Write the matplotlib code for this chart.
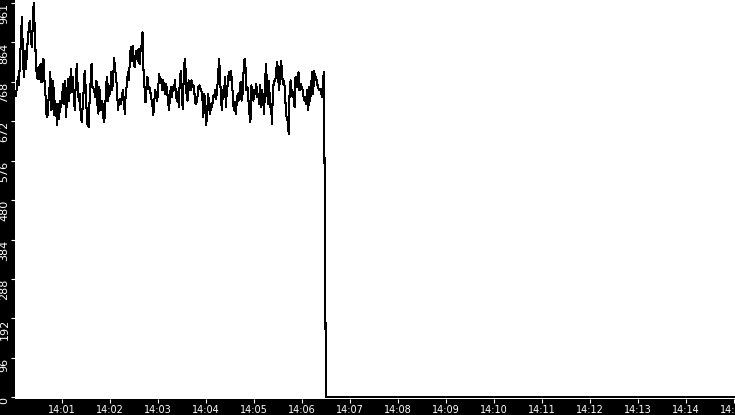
import datetime as dt
import matplotlib
matplotlib.use("Agg")
import matplotlib.pyplot as plt
import matplotlib.dates as mdates

# Recording: one sample every ~1.2 s from 14:00:02, then the signal drops out
day = dt.datetime(2024, 1, 1)
rec_start = day.replace(hour=14, minute=0, second=2, microsecond=250000)
sample_s = 1.226

values = [
    # 14:00 - 14:01:40
    735, 760, 780, 760, 820, 870, 926, 840, 780, 845, 800, 837, 870, 897, 917, 885,
    853, 900, 961, 905, 837, 790, 776, 804, 776, 812, 768, 790, 824, 772, 739, 691,
    683, 720, 748, 792, 699, 715, 772, 687, 723, 695, 663, 715, 679, 723, 707, 731,
    764, 715, 772, 683, 731, 776, 723, 756, 800, 744, 780, 727, 699, 772, 812, 748,
    723, 739, 687, 671, 710, 748, 796, 756, 699, 663, 659, 720, 764, 812, 756,
    # 14:01:40 - 14:03:20
    752, 744, 731, 772, 715, 691, 756, 707, 699, 723, 683, 671, 707, 764, 780, 723,
    756, 739, 792, 748, 772, 828, 796, 784, 748, 699, 723, 727, 715, 731, 748, 723,
    691, 752, 756, 792, 772, 816, 853, 820, 857, 812, 804, 837, 845, 820, 849, 812,
    845, 857, 889, 796, 756, 719, 748, 780, 752, 756, 744, 727, 715, 687, 723, 748,
    731, 723, 756, 788, 768, 776, 748, 772, 756, 739, 764, 748, 723, 699, 735, 756,
    731, 756, 748, 772,
    # 14:03:20 - 14:05:00
    739, 723, 744, 707, 772, 796, 739, 703, 780, 824, 796, 731, 723, 772, 752, 748,
    772, 756, 760, 739, 715, 719, 731, 756, 760, 752, 748, 731, 683, 739, 723, 663,
    699, 739, 703, 691, 715, 707, 735, 731, 748, 727, 748, 780, 824, 788, 723, 699,
    748, 731, 780, 707, 748, 764, 792, 772, 796, 776, 739, 699, 719, 691, 715, 739,
    723, 744, 768, 723, 739, 792, 824, 804, 748, 756, 723, 691, 671, 760, 739, 723,
    748, 739,
    # 14:05:00 - 14:06:26
    764, 731, 739, 715, 760, 707, 748, 723, 691, 772, 812, 748, 715, 772, 707, 715,
    667, 752, 768, 772, 780, 816, 804, 748, 772, 820, 804, 764, 772, 756, 707, 679,
    675, 642, 748, 772, 748, 731, 744, 707, 780, 780, 756, 792, 748, 764, 756, 752,
    735, 723, 731, 715, 748, 699, 756, 723, 764, 792, 739, 796, 772, 780, 764, 756,
    748, 752, 744, 731, 772, 792,
]
drop_value = 390

view_start = day.replace(hour=14, minute=0, second=1)
view_end = day.replace(hour=14, minute=15, second=1)

y_ticks = [0, 96.1, 192.2, 288.3, 384.4, 480.5, 576.6, 672.7, 768.8, 864.9, 961]
y_labels = ["0", "96", "192", "288", "384", "480", "576", "672", "768", "864", "961"]


def main():
    series = values + [drop_value, 0]
    times = [rec_start + dt.timedelta(seconds=i * sample_s) for i in range(len(series))]
    # flat zero line until the end of the window
    times.append(view_end)
    series.append(0)

    fig = plt.figure(figsize=(7.35, 4.15), dpi=100, facecolor="black")
    ax = fig.add_axes([15 / 735, 16 / 415, 720 / 735, 399 / 415])
    ax.set_facecolor("white")

    ax.plot(times, series, color="black", lw=0.75, antialiased=False)

    ax.set_xlim(view_start, view_end)
    ax.set_ylim(-4, 968)

    ax.xaxis.set_major_locator(mdates.MinuteLocator())
    ax.xaxis.set_major_formatter(mdates.DateFormatter("%H:%M"))
    ax.set_yticks(y_ticks)
    ax.set_yticklabels(y_labels, rotation=90, va="top",
                       family=["Liberation Sans Narrow", "DejaVu Sans"], fontsize=8)

    for s in ax.spines.values():
        s.set_visible(False)
    ax.tick_params(axis="both", colors="white", direction="out", length=3,
                   width=0.8, pad=1)
    ax.tick_params(axis="x", labelsize=7)

    fig.savefig("out.png", dpi=100, facecolor="black")


if __name__ == "__main__":
    main()
